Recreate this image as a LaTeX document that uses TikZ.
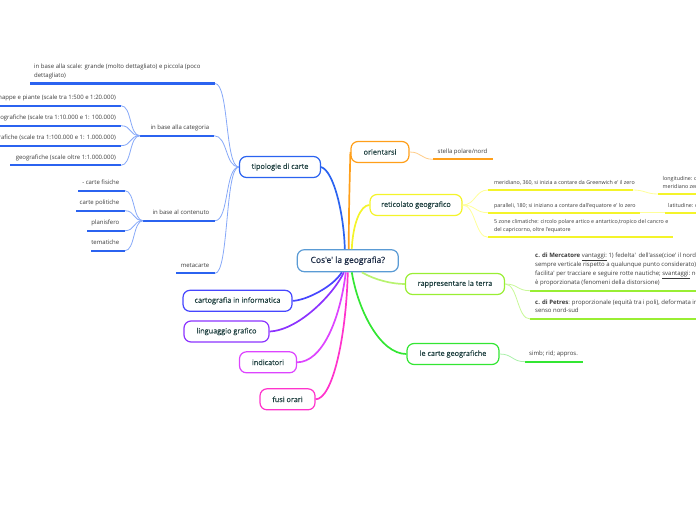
\documentclass[tikz,border=0pt]{standalone}
\usepackage{fontspec}
\setmainfont{Open Sans}[Ligatures=TeXOff]
\newfontfamily\semifam{Open Sans}[Ligatures=TeXOff, FakeBold=0.35]
\definecolor{cborder}{HTML}{5A9BD5}
\definecolor{centtext}{HTML}{1C2B45}
\definecolor{maintext}{HTML}{1F4040}
\definecolor{smalltext}{HTML}{3A3A3A}
\definecolor{cblue}{HTML}{2B63F0}
\definecolor{cbluel}{HTML}{86A8F8}
\definecolor{corange}{HTML}{FF9F1A}
\definecolor{corangel}{HTML}{FFCC88}
\definecolor{cyellow}{HTML}{F4F42A}
\definecolor{cyellowl}{HTML}{FFFF99}
\definecolor{clgreen}{HTML}{99EE33}
\definecolor{clgreenl}{HTML}{C8F898}
\definecolor{cgreen}{HTML}{33E633}
\definecolor{cgreenl}{HTML}{A8F0A8}
\definecolor{cviolet}{HTML}{4646FF}
\definecolor{cpurple}{HTML}{8C33FF}
\definecolor{cmagv}{HTML}{DD44FF}
\definecolor{cpink}{HTML}{FF33CC}
\newcommand\mnfont{\semifam\fontsize{7.3}{9}\selectfont}
\newcommand\cnfont{\semifam\fontsize{8.5}{10}\selectfont}
\newcommand\smfont{\fontsize{6}{9}\selectfont}
\newcommand\xsfont{\fontsize{5.35}{8.3}\selectfont}
\tikzset{
  mainbox/.style={draw, rounded corners=7pt, line width=1.2pt, fill=white,
    minimum height=21pt, inner sep=0pt, font=\mnfont, text=maintext},
  leaf/.style={inner sep=0pt, text depth=0pt, font=\smfont, text=smalltext, align=left},
  leafxs/.style={leaf, font=\xsfont},
  uline/.style={line width=2.3pt},
  conn/.style={line width=1.7pt},
  subconn/.style={line width=0.8pt},
}
\begin{document}
\begin{tikzpicture}[x=1pt,y=-1pt]
\useasboundingbox (0,0) rectangle (696,520);
\clip (0,0) rectangle (696,520);

% main nodes
\node[mainbox, draw=cborder, minimum width=101pt, minimum height=22pt, font=\cnfont, text=centtext] (c) at (347.8,260.7) {Cos'e' la geografia?};
\node[mainbox, draw=cblue, minimum width=81pt] (tip) at (280,167) {tipologie di carte};
\node[mainbox, draw=corange, minimum width=58pt] (ori) at (380,152) {orientarsi};
\node[mainbox, draw=cyellow, minimum width=92pt] (ret) at (416,205) {reticolato geografico};
\node[mainbox, draw=clgreen, minimum width=99pt] (rap) at (455,284) {rappresentare la terra};
\node[mainbox, draw=cgreen, minimum width=92pt] (lcg) at (453,354) {le carte geografiche};
\node[mainbox, draw=cviolet, minimum width=109pt] (cart) at (237.5,300.8) {cartografia in informatica};
\node[mainbox, draw=cpurple, minimum width=85pt] (ling) at (226.5,331.5) {linguaggio grafico};
\node[mainbox, draw=cmagv, minimum width=57pt] (ind) at (268,362.3) {indicatori};
\node[mainbox, draw=cpink, minimum width=55pt] (fusi) at (287.5,399.3) {fusi orari};

% main connectors
\draw[conn, cblue] (tip.east) .. controls (334,171) and (344,215) .. ([xshift=-3]c.north);
\draw[conn, corange] (ori.west) .. controls +(-1,40) and +(0,-40) .. ([xshift=1]c.north);
\draw[conn, cyellow] (ret.west) .. controls +(-9,0) and +(1,-25) .. ([xshift=4]c.north);
\draw[conn, clgreen!70!white] ([xshift=14]c.south) .. controls (375,280) and (392,284) .. (rap.west);
\draw[conn, cgreen] ([xshift=4]c.south) .. controls (358,310) and (380,354) .. (lcg.west);
\draw[conn, cviolet] ([xshift=-6]c.south) .. controls (333,287) and (305,300.8) .. (cart.east);
\draw[conn, cpurple] ([xshift=-4]c.south) .. controls (335,292) and (300,330) .. (ling.east);
\draw[conn, cmagv] ([xshift=-2]c.south) .. controls (340,320) and (322,362.3) .. (ind.east);
\draw[conn, cpink] ([xshift=0]c.south) .. controls (346,340) and (332,399.3) .. (fusi.east);

% ---- tipologie di carte subtree
\coordinate (scA) at (30,83.5);  \coordinate (scB) at (215,83.5);
\coordinate (caA) at (140,135.7); \coordinate (caB) at (214,135.7);
\coordinate (coA) at (143,220.7); \coordinate (coB) at (215,220.7);
\coordinate (meA) at (176,273.3); \coordinate (meB) at (215,273.3);
\foreach \a/\b in {scA/scB,caA/caB,coA/coB,meA/meB} \draw[uline, cblue] (\a) -- (\b);
\node[leaf, anchor=south west] (sc) at (34,77.5) {in base alla scale: grande (molto dettagliato) e piccola (poco\\dettagliato)};
\node[leaf, anchor=south east] (ca) at (209.5,129.7) {in base alla categoria};
\node[leaf, anchor=south east] (co) at (209.5,214.7) {in base al contenuto};
\node[leaf, anchor=south east] (me) at (209.5,267.3) {metacarte};
\foreach \e in {scB,caB,coB,meB} \draw[subconn, cbluel] (tip.west) .. controls +(-14,0) and +(14,0) .. (\e);

% categoria children
\coordinate (k1A) at (-5,105.7); \coordinate (k1B) at (121,105.7);
\coordinate (k2A) at (-5,125.7); \coordinate (k2B) at (121,125.7);
\coordinate (k3A) at (-5,145.7); \coordinate (k3B) at (121,145.7);
\coordinate (k4A) at (10,165.3); \coordinate (k4B) at (121,165.3);
\foreach \a/\b in {k1A/k1B,k2A/k2B,k3A/k3B,k4A/k4B} \draw[uline, cblue] (\a) -- (\b);
\node[leaf, anchor=south east] (k1) at (116,99.7) {mappe e piante (scale tra 1:500 e 1:20.000)};
\node[leaf, anchor=south east] (k2) at (116,119.7) {topografiche (scale tra 1:10.000 e 1: 100.000)};
\node[leaf, anchor=south east] (k3) at (116,139.7) {corografiche (scale tra 1:100.000 e 1: 1.000.000)};
\node[leaf, anchor=south east] (k4) at (116,159.3) {geografiche (scale oltre 1:1.000.000)};
\foreach \e in {k1B,k2B,k3B,k4B} \draw[subconn, cbluel] (caA) .. controls +(-11,0) and +(11,0) .. (\e);

% contenuto children
\coordinate (t1A) at (78,190.7); \coordinate (t1B) at (125,190.7);
\coordinate (t2A) at (76,210.7); \coordinate (t2B) at (125,210.7);
\coordinate (t3A) at (87,230.7); \coordinate (t3B) at (125,230.7);
\coordinate (t4A) at (91,250.7); \coordinate (t4B) at (125,250.7);
\foreach \a/\b in {t1A/t1B,t2A/t2B,t3A/t3B,t4A/t4B} \draw[uline, cblue] (\a) -- (\b);
\node[leaf, anchor=south east] (t1) at (119.5,184.7) {- carte fisiche};
\node[leaf, anchor=south east] (t2) at (119.5,204.7) {carte politiche};
\node[leaf, anchor=south east] (t3) at (119.5,224.7) {planisfero};
\node[leaf, anchor=south east] (t4) at (119.5,244.7) {tematiche};
\foreach \e in {t1B,t2B,t3B,t4B} \draw[subconn, cbluel] (coA) .. controls +(-10,0) and +(10,0) .. (\e);

% ---- orientarsi
\coordinate (stA) at (433,159.3); \coordinate (stB) at (493,159.3);
\draw[uline, corange] (stA) -- (stB);
\node[leaf, anchor=south west] (st) at (437.5,153.3) {stella polare/nord};
\draw[subconn, corangel] (ori.east) .. controls +(12,0) and +(-12,0) .. (stA);

% ---- reticolato geografico
\coordinate (mrA) at (488,190);   \coordinate (mrB) at (633,190);
\coordinate (paA) at (488,212.7); \coordinate (paB) at (640,212.7);
\coordinate (zoA) at (488,237.3); \coordinate (zoB) at (673,237.3);
\coordinate (loA) at (658,194);   \coordinate (loB) at (700,194);
\coordinate (laA) at (665,212.7); \coordinate (laB) at (700,212.7);
\foreach \a/\b in {mrA/mrB,paA/paB,zoA/zoB,loA/loB,laA/laB} \draw[uline, cyellow] (\a) -- (\b);
\node[leafxs, anchor=south west] (mr) at (494,184.5) {meridiano, 360, si inizia a contare da Greenwich e' il zero};
\node[leafxs, anchor=south west] (pa) at (494,207.2) {paralleli, 180; si iniziano a contare dall'equatore e' lo zero};
\node[leafxs, anchor=south west] (zo) at (494,231.8) {5 zone climatiche: circolo polare artico e antartico,tropico del cancro e\\del capricorno, oltre l'equatore};
\node[leafxs, anchor=south west] (lo) at (662.5,188.5) {longitudine: distanza dal\\meridiano zero};
\node[leafxs, anchor=south west] (la) at (668,207.2) {latitudine: distanza dall'equatore};
\foreach \e in {mrA,paA,zoA} \draw[subconn, cyellowl] (ret.east) .. controls +(13,0) and +(-13,0) .. (\e);
\draw[subconn, cyellowl] (mrB) .. controls +(12,0) and +(-12,0) .. (loA);
\draw[subconn, cyellowl] (paB) -- (laA);

% ---- rappresentare la terra
\coordinate (mcA) at (530,290.7); \coordinate (mcB) at (700,290.7);
\coordinate (peA) at (530,319);   \coordinate (peB) at (700,319);
\draw[uline, clgreen] (mcA) -- (mcB);
\draw[uline, clgreen] (peA) -- (peB);
\node[leaf, anchor=south west, font=\fontsize{6}{8.9}\selectfont] (mc) at (535,284.7) {{\bfseries c. di Mercatore} \underline{vantaggi:} 1) fedelta'\, dell'asse(cioe' il nord\\sempre verticale rispetto a qualunque punto considerato);\\facilita' per tracciare e seguire rotte nautiche; \underline{svantaggi:} non\\è proporzionata (fenomeni della distorsione)};
\node[leaf, anchor=south west, font=\fontsize{6}{8.3}\selectfont] (pe) at (535,313) {{\bfseries c. di Petres}: proporzionale (equità tra i poli), deformata in\\senso nord-sud};
\foreach \e in {mcA,peA} \draw[subconn, clgreenl] (rap.east) .. controls +(13,0) and +(-13,0) .. (\e);

% ---- le carte geografiche
\coordinate (siA) at (525,361.7); \coordinate (siB) at (583,361.7);
\draw[uline, cgreen] (siA) -- (siB);
\node[leaf, anchor=south west] (si) at (529,355.7) {simb; rid; appros.};
\draw[subconn, cgreenl] (lcg.east) .. controls +(13,0) and +(-13,0) .. (siA);
\end{tikzpicture}
\end{document}
